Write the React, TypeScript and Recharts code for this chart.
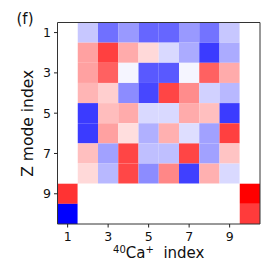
import React from 'react';
import { ComposedChart, XAxis, YAxis, Scatter, ReferenceArea, Label, Customized } from 'recharts';

const FONT = '"DejaVu Sans", sans-serif';

const ionIndex = [1, 2, 3, 4, 5, 6, 7, 8, 9, 10];
const modeIndex = [1, 2, 3, 4, 5, 6, 7, 8, 9, 10];
const xTicks = [1, 3, 5, 7, 9];
const yTicks = [1, 3, 5, 7, 9];

const mode1 = [0, -0.22, -0.56, -0.4, -0.6, -0.6, -0.4, -0.55, -0.22, 0];
const mode2 = [0, 0.37, 0.75, 0.33, 0.15, -0.15, -0.33, -0.77, -0.33, 0];
const mode3 = [0, 0.37, 0.62, -0.04, -0.65, -0.65, -0.04, 0.62, 0.33, 0];
const mode4 = [0, 0.29, 0.19, -0.45, -0.72, 0.73, 0.45, -0.18, -0.28, 0];
const mode5 = [0, -0.77, 0.26, 0.33, -0.15, -0.15, 0.33, 0.25, -0.77, 0];
const mode6 = [0, -0.77, 0.37, 0.13, -0.31, 0.31, -0.13, -0.37, 0.75, 0];
const mode7 = [0, 0.25, -0.37, 0.73, -0.25, -0.25, 0.73, -0.37, 0.23, 0];
const mode8 = [0, 0.15, -0.28, 0.72, -0.45, 0.47, -0.75, 0.31, -0.15, 0];
const mode9 = [0.8, 0, 0, 0, 0, 0, 0, 0, 0, 1];
const mode10 = [-1, 0, 0, 0, 0, 0, 0, 0, 0, 0.77];

const modes = [mode1, mode2, mode3, mode4, mode5, mode6, mode7, mode8, mode9, mode10];

const cells = modeIndex.flatMap((m, r) =>
  ionIndex.map((i, c) => ({ x: i, y: m, v: modes[r][c] }))
);

function bwr(v: number): string {
  if (v < 0) {
    const c = Math.round(255 * (1 + v));
    return `rgb(${c},${c},255)`;
  }
  const c = Math.round(255 * (1 - v));
  return `rgb(255,${c},${c})`;
}

const XTick = (props: any) => {
  const { x, payload } = props;
  return (
    <text x={x} y={240.5} textAnchor="middle" fontFamily={FONT} fontSize={12.5} fill="#111">
      {payload.value}
    </text>
  );
};

const YTick = (props: any) => {
  const { y, payload } = props;
  return (
    <text x={51} y={y + 4.5} textAnchor="end" fontFamily={FONT} fontSize={12.5} fill="#111">
      {payload.value}
    </text>
  );
};

const XLabel = (props: any) => {
  const vb = props.viewBox || { x: 0, y: 0, width: 0, height: 0 };
  return (
    <text x={vb.x + vb.width / 2} y={258} textAnchor="middle" fontFamily={FONT} fontSize={15} fill="#111">
      <tspan fontSize={10} dy={-5.5}>40</tspan>
      <tspan dy={5.5}>Ca</tspan>
      <tspan fontSize={10} dy={-5.5}>+</tspan>
      <tspan dy={5.5}>{'\u00A0\u00A0index'}</tspan>
    </text>
  );
};

const YLabel = (props: any) => {
  const vb = props.viewBox || { x: 0, y: 0, width: 0, height: 0 };
  const cy = vb.y + vb.height / 2;
  return (
    <text x={33} y={cy} textAnchor="middle" fontFamily={FONT} fontSize={15.5} fill="#111" transform={`rotate(-90 33 ${cy})`}>
      Z mode index
    </text>
  );
};

const Title = () => (
  <text x={16.5} y={23.5} fontFamily={FONT} fontSize={15} fill="#111">(f)</text>
);

export default function App() {
  return (
    <div style={{ position: 'absolute', left: 0, top: 0 }}>
      <ComposedChart width={276} height={276} data={cells} margin={{ top: 22.5, right: 16, bottom: 20, left: 0 }}>
        <XAxis
          type="number"
          dataKey="x"
          domain={[0.5, 10.5]}
          ticks={xTicks}
          interval={0}
          allowDataOverflow
          height={32}
          tickSize={3.5}
          axisLine={false}
          tickLine={{ stroke: '#222' }}
          tick={<XTick />}
        >
          <Label content={XLabel} />
        </XAxis>
        <YAxis
          type="number"
          dataKey="y"
          reversed
          domain={[0.5, 10.5]}
          ticks={yTicks}
          interval={0}
          allowDataOverflow
          width={57.5}
          tickSize={3.5}
          axisLine={false}
          tickLine={{ stroke: '#222' }}
          tick={<YTick />}
        >
          <Label content={YLabel} />
        </YAxis>
        {cells.map((d) => (
          <ReferenceArea
            key={`${d.x}-${d.y}`}
            x1={d.x - 0.5}
            x2={d.x + 0.5}
            y1={d.y - 0.5}
            y2={d.y + 0.5}
            fill={bwr(d.v)}
            fillOpacity={1}
            stroke="none"
            isFront={false}
          />
        ))}
        <ReferenceArea x1={0.5} x2={10.5} y1={0.5} y2={10.5} fill="none" stroke="#333" strokeWidth={1} />
        <Scatter dataKey="y" isAnimationActive={false} shape={() => <g />} />
        <Customized component={Title} />
      </ComposedChart>
    </div>
  );
}
